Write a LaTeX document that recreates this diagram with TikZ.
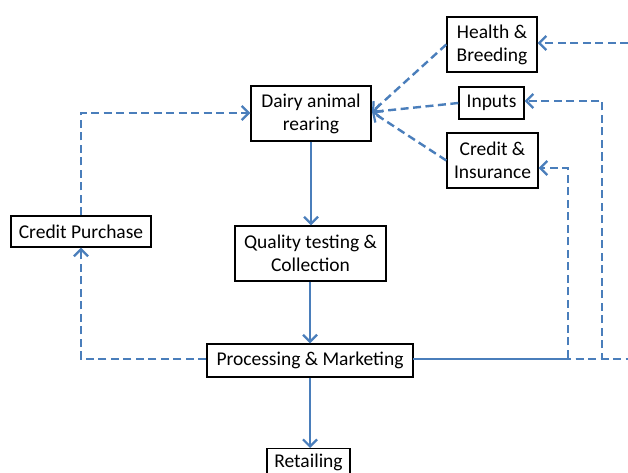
\documentclass[tikz,border=0pt]{standalone}
\usepackage{fontspec}
\setmainfont{Carlito}
\usetikzlibrary{arrows.meta,calc}
\definecolor{flowblue}{HTML}{4A7EBB}
\tikzset{
  box/.style={draw=black, line width=1.4pt, fill=white, align=center, inner sep=0pt,
    font=\fontsize{19.5}{23}\selectfont},
  tip/.style={-{Straight Barb[length=7pt,width=14pt,line width=2.2pt]}},
  flow/.style={draw=flowblue, line width=2.6pt, tip},
  support/.style={draw=flowblue, line width=2.4pt, dash pattern=on 8pt off 4.5pt, tip},
}
\begin{document}
\begin{tikzpicture}[x=1pt,y=-1pt]
\useasboundingbox (0,0) rectangle (628,473);
\clip (0,0) rectangle (628,473);
\fill[white] (0,0) rectangle (628,473);

% main chain
\node[box, minimum width=120pt, minimum height=55pt] (dairy) at (311,113.5) {Dairy animal\\rearing};
\node[box, minimum width=151pt, minimum height=55pt] (quality) at (310.5,253.5) {Quality testing \&\\Collection};
\node[box, minimum width=206pt, minimum height=33pt] (proc) at (310,360.5) {Processing \& Marketing};
\node[box, minimum width=83pt, minimum height=28pt, anchor=north] (retail) at (308.5,448) {Retailing};

% side nodes
\node[box, minimum width=140pt, minimum height=31pt] (cpurch) at (81,231.5) {Credit Purchase};
\node[box, minimum width=90pt, minimum height=55pt] (health) at (492,44.5) {Health \&\\Breeding};
\node[box, minimum width=65pt, minimum height=32pt] (inputs) at (491.5,103) {Inputs};
\node[box, minimum width=91pt, minimum height=55pt] (credit) at (492.5,160.5) {Credit \&\\Insurance};

% solid flow
\draw[flow] (dairy.south) -- (quality.north -| dairy.south);
\draw[flow] (quality.south -| proc.north) -- (proc.north);
\draw[flow] (proc.south -| 310,0) -- (retail.north -| 310,0);

% services feeding rearing
\coordinate (hub) at (372,112);
\draw[support] (health.west) -- (hub);
\draw[support] (inputs.west) -- (hub);
\draw[support] (credit.west) -- (hub);

% credit purchase loop
\coordinate (cpl) at (81,359);
\draw[support] (proc.west |- cpl) -- (cpl) -- (cpurch.south);
\coordinate (cpt) at (81,113);
\draw[support] (cpurch.north) -- (cpt) -- (dairy.west |- cpt);

% returns from processing to services
\coordinate (pr) at (413,359);
\coordinate (r1) at (568,168);
\coordinate (r2) at (602,101);
\coordinate (r3) at (650,43);
\draw[support, dash phase=6pt] (pr) -| (r1) -- (credit.east |- r1);
\draw[support] (pr) -| (r2) -- (inputs.east |- r2);
\draw[support] (pr) -| (r3) -- (health.east |- r3);
\end{tikzpicture}
\end{document}
